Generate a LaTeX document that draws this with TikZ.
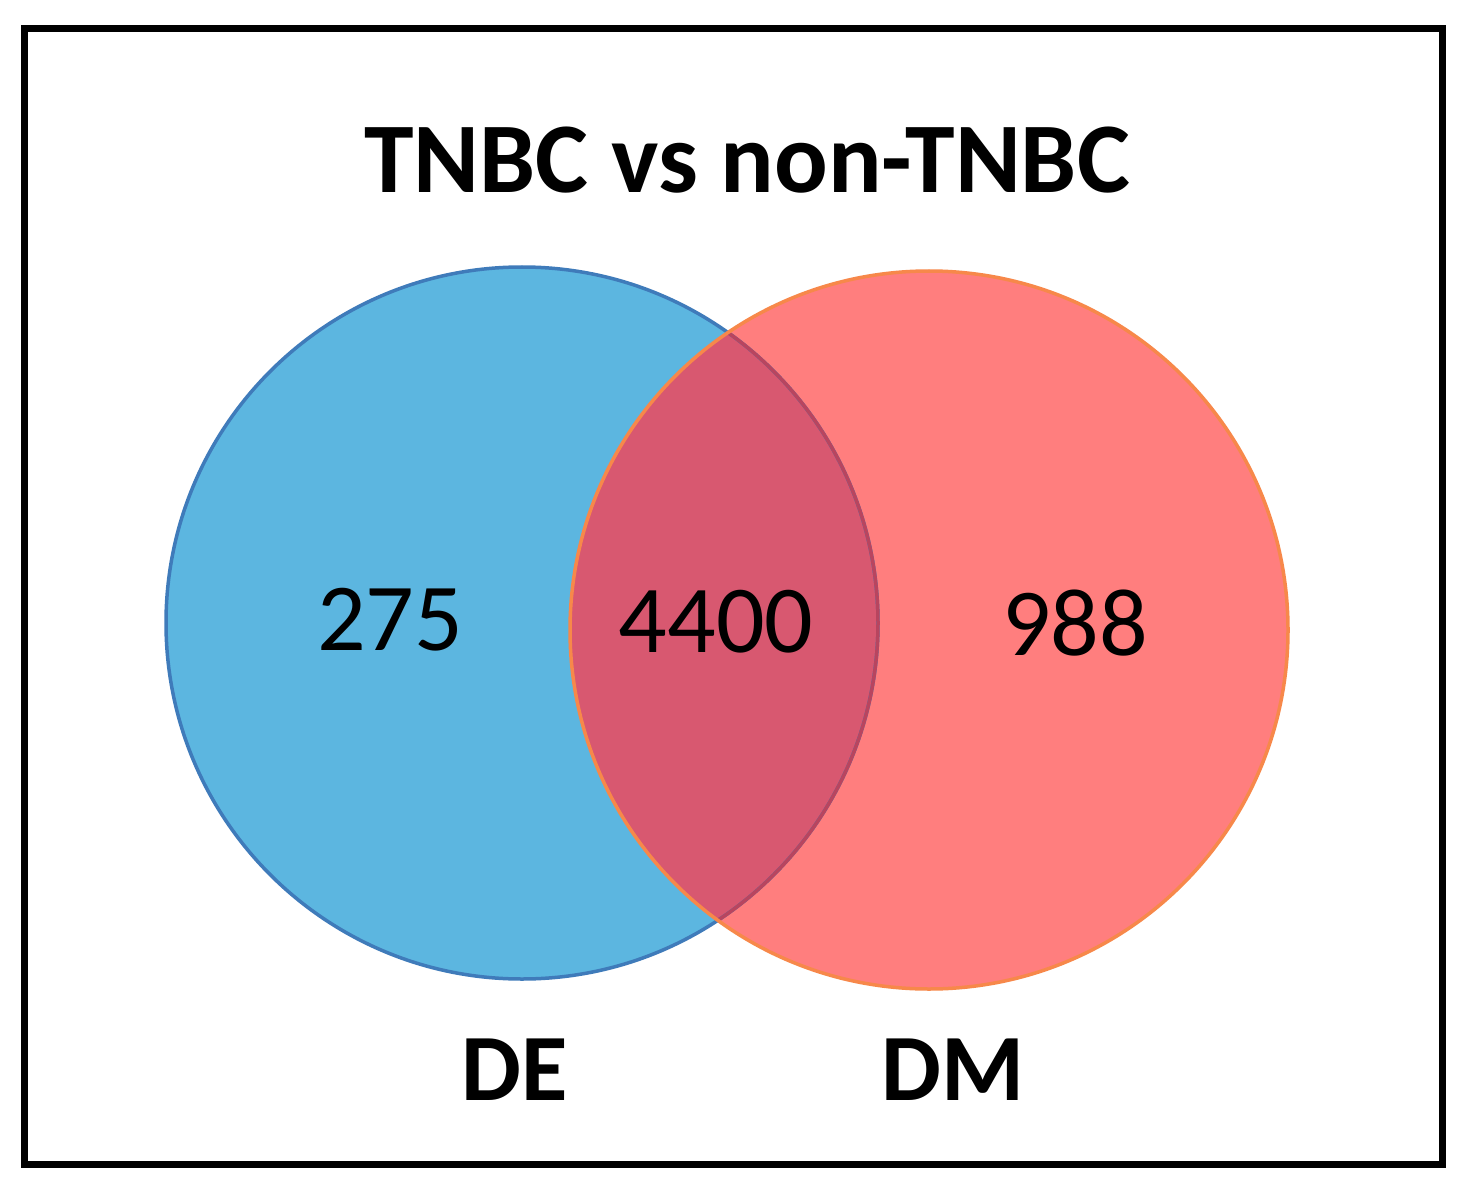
\documentclass[tikz,border=0pt]{standalone}
\usepackage{fontspec}
\setmainfont{Carlito}
\definecolor{defill}{HTML}{5CB6E0}
\definecolor{dedraw}{HTML}{3F7BBA}
\definecolor{dmfill}{HTML}{FF7E7E}
\definecolor{dmdraw}{HTML}{F7884A}
\definecolor{both}{HTML}{D85870}
\definecolor{bothedge}{HTML}{B8455F}
\begin{document}
\begin{tikzpicture}[x=1pt,y=-1pt,
  numtxt/.style={font=\fontsize{96}{110}\selectfont, anchor=base, inner sep=0pt},
  boldtxt/.style={font=\fontsize{95}{110}\selectfont\bfseries, anchor=base, inner sep=0pt},
  titletxt/.style={font=\fontsize{100}{115}\selectfont\bfseries, anchor=base, inner sep=0pt}]
\useasboundingbox (0,0) rectangle (1469,1190);
\fill[white] (0,0) rectangle (1469,1190);
\draw[line width=7pt] (24,29) rectangle (1442,1164);
% circles
\fill[defill] (522,623) circle[radius=356];
\fill[dmfill] (929,630) circle[radius=359];
\begin{scope}
  \clip (522,623) circle[radius=356];
  \fill[both] (929,630) circle[radius=359];
\end{scope}
\draw[dedraw, line width=3.5pt] (522,623) circle[radius=356];
\begin{scope}
  \clip (929,630) circle[radius=359];
  \draw[bothedge, line width=3.5pt] (522,623) circle[radius=356];
\end{scope}
\draw[dmdraw, line width=3.5pt] (929,630) circle[radius=359];
% labels
\node[titletxt] (title) at (747,193) {TNBC vs non-TNBC};
\node[numtxt] (a) at (390,650) {275};
\node[numtxt] (ab) at (716,652) {4400};
\node[numtxt] (b) at (1075,655) {988};
\node[boldtxt] (de) at (515,1100) {DE};
\node[boldtxt] (dm) at (953,1100) {DM};
\end{tikzpicture}
\end{document}
